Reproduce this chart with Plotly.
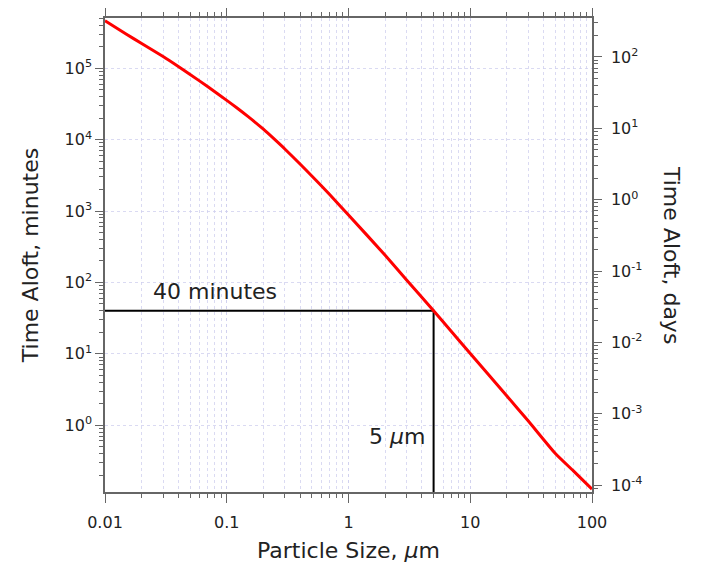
import numpy as np
import plotly.graph_objects as go

# Particle size (µm) and time aloft (minutes)
size_um = [0.01, 0.015, 0.02, 0.03, 0.04, 0.05, 0.07, 0.1, 0.12, 0.15, 0.2, 0.25, 0.3, 0.4,
           0.5, 0.7, 1, 2, 3, 5, 7, 10, 20, 30, 50, 70, 100]
time_min = [462000, 300000, 222000, 146000, 106000, 82000, 55000, 35500, 28200, 21000, 14000,
            9900, 7400, 4550, 3100, 1700, 880, 240, 108, 40, 20.5, 10.1, 2.56, 1.14, 0.40,
            0.23, 0.127]

# Guide marking 5 µm -> 40 minutes
guide_size = 5
guide_minutes = 40

MIN_PER_DAY = 1440.0
y_range_min = [0.1156, 5.06e5]   # left axis extent, minutes
x_range = [0.01, 100]

left_ticks = [1, 10, 100, 1000, 1e4, 1e5]
left_text = ["10<sup>0</sup>", "10<sup>1</sup>", "10<sup>2</sup>", "10<sup>3</sup>",
             "10<sup>4</sup>", "10<sup>5</sup>"]
right_ticks = [1e-4, 1e-3, 1e-2, 1e-1, 1, 10, 100]
right_text = ["10<sup>-4</sup>", "10<sup>-3</sup>", "10<sup>-2</sup>", "10<sup>-1</sup>",
              "10<sup>0</sup>", "10<sup>1</sup>", "10<sup>2</sup>"]
x_ticks = [0.01, 0.1, 1, 10, 100]
x_text = ["0.01", "0.1", "1", "10", "100"]

font_fam = "DejaVu Sans, Open Sans, sans-serif"
grid_col = "rgba(205,205,238,0.75)"
axis_col = "#666666"

fig = go.Figure()

fig.add_trace(go.Scatter(
    x=[x_range[0], guide_size, guide_size],
    y=[guide_minutes, guide_minutes, y_range_min[0]],
    mode="lines", line=dict(color="black", width=2),
    hoverinfo="skip", showlegend=False, cliponaxis=False))

fig.add_trace(go.Scatter(
    x=size_um, y=time_min, mode="lines",
    line=dict(color="#ff0000", width=3, shape="spline", smoothing=0.5),
    showlegend=False))

# invisible trace to activate the right axis (days)
fig.add_trace(go.Scatter(
    x=size_um, y=[t / MIN_PER_DAY for t in time_min], mode="lines",
    line=dict(width=0), opacity=0, yaxis="y2", showlegend=False, hoverinfo="skip"))

minor_common = dict(ticks="outside", ticklen=4, tickcolor=axis_col, tickwidth=1, dtick="D1")

fig.update_layout(
    width=701, height=564,
    margin=dict(l=97, r=117, t=10, b=80),
    plot_bgcolor="white", paper_bgcolor="white",
    font=dict(family=font_fam, size=16, color="#222"),
    xaxis=dict(
        type="log", range=[np.log10(x_range[0]), np.log10(x_range[1])],
        tickmode="array", tickvals=x_ticks, ticktext=x_text, automargin=False,
        showline=True, linecolor=axis_col, linewidth=1.5, mirror="ticks",
        ticks="outside", ticklen=9, tickcolor=axis_col, tickwidth=1,
        ticklabelstandoff=6,
        showgrid=True, gridcolor=grid_col, griddash="dot", gridwidth=1,
        minor=dict(showgrid=True, gridcolor=grid_col, griddash="dot", **minor_common),
        title=dict(text="Particle Size, <i>μ</i>m", font=dict(size=22), standoff=12),
        tickfont=dict(size=16), zeroline=False),
    yaxis=dict(
        type="log", range=[np.log10(y_range_min[0]), np.log10(y_range_min[1])],
        tickmode="array", tickvals=left_ticks, ticktext=left_text, automargin=False,
        showline=True, linecolor=axis_col, linewidth=1.5,
        ticks="outside", ticklen=8, tickcolor=axis_col, tickwidth=1,
        showgrid=True, gridcolor=grid_col, griddash="dot", gridwidth=1,
        minor=dict(showgrid=False, **minor_common),
        title=dict(text="Time Aloft, minutes", font=dict(size=22), standoff=20),
        tickfont=dict(size=16), zeroline=False),
    yaxis2=dict(
        type="log", overlaying="y", side="right", automargin=False,
        range=[np.log10(y_range_min[0] / MIN_PER_DAY), np.log10(y_range_min[1] / MIN_PER_DAY)],
        tickmode="array", tickvals=right_ticks, ticktext=right_text,
        showline=True, linecolor=axis_col, linewidth=1.5,
        ticks="outside", ticklen=8, tickcolor=axis_col, tickwidth=1,
        ticklabelstandoff=6,
        showgrid=False,
        minor=dict(showgrid=False, **minor_common),
        tickfont=dict(size=16), zeroline=False),
    annotations=[
        dict(text="Time Aloft, days", textangle=90, xref="paper", yref="paper",
             x=1.0, y=0.5, xanchor="center", yanchor="middle", xshift=80,
             showarrow=False, font=dict(size=22)),
        dict(text="40 minutes", xref="x", yref="y",
             x=np.log10(0.08), y=np.log10(75), showarrow=False, font=dict(size=22)),
        dict(text="5 <i>μ</i>m", xref="x", yref="y", xanchor="right",
             x=np.log10(4.45), y=np.log10(0.69), showarrow=False, font=dict(size=22)),
    ],
)

fig.write_html("out.html")
